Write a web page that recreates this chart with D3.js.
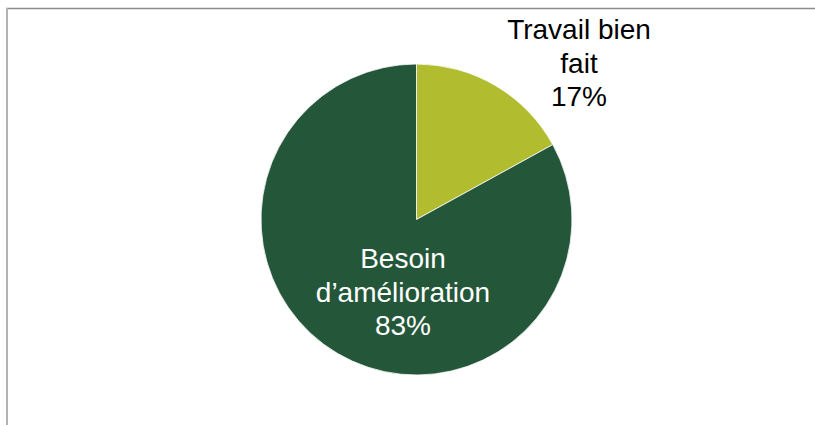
<!DOCTYPE html>
<html><head><meta charset="utf-8">
<script src="https://cdn.jsdelivr.net/npm/d3@7"></script>
<style>html,body{margin:0;padding:0;background:#fff;}svg{display:block;}</style>
</head><body>
<svg id="chart" width="815" height="425"></svg>
<script>
const categories = ["Travail bien fait", "Besoin d’amélioration"];
const values = [17, 83];
const labelLines = [["Travail bien", "fait", "17%"], ["Besoin", "d’amélioration", "83%"]];
const colors = ["#b1bc2f", "#24573a"];
const labelColors = ["#000000", "#ffffff"];

const svg = d3.select("#chart");
// frame
svg.append("line").attr("x1", 6).attr("x2", 815).attr("y1", 8.5).attr("y2", 8.5)
  .attr("stroke", "#8c8c8c").attr("stroke-width", 1.5);
svg.append("line").attr("x1", 7).attr("x2", 7).attr("y1", 8).attr("y2", 425)
  .attr("stroke", "#b3b3b3").attr("stroke-width", 2);

const cx = 416.5, cy = 219.5, r = 155.5;
const pie = d3.pie().sort(null).value(d => d.v);
const arcs = pie(categories.map((c, i) => ({c, v: values[i], i})));
const arc = d3.arc().innerRadius(0).outerRadius(r);
const g = svg.append("g").attr("transform", `translate(${cx},${cy})`);
g.selectAll("path").data(arcs).join("path")
  .attr("d", arc).attr("fill", d => colors[d.data.i])
  .attr("stroke", "#ffffff").attr("stroke-width", 0.8);

// label positions
const labelPos = [[579, 39], [403, 268]];
const lineH = 33.5;
labelLines.forEach((lines, i) => {
  const t = svg.append("text")
    .attr("text-anchor", "middle")
    .attr("font-family", "'Liberation Sans', Arial, sans-serif")
    .attr("font-size", 28)
    .attr("fill", labelColors[i]);
  lines.forEach((s, k) => {
    t.append("tspan").attr("x", labelPos[i][0]).attr("y", labelPos[i][1] + k * lineH).text(s);
  });
});
</script>
</body></html>
